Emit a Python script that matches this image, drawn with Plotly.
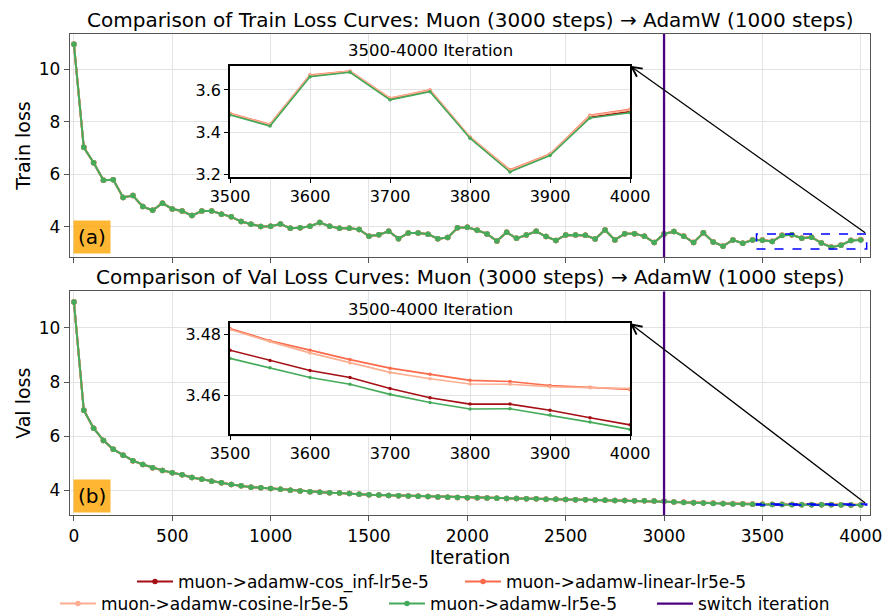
import plotly.graph_objects as go

# ---------------- data ----------------
iterations = list(range(0, 4001, 50))
switch_iter = 3000

series_names = ["muon->adamw-cos_inf-lr5e-5", "muon->adamw-linear-lr5e-5",
                "muon->adamw-cosine-lr5e-5", "muon->adamw-lr5e-5"]
series_colors = ["#a50f15", "#fb6a4a", "#fcae91", "#45ab5a"]

# shared Muon phase (0..3000)
train_muon = [10.95, 7.02, 6.43, 5.77, 5.78, 5.11, 5.18, 4.76, 4.62, 4.89,
              4.67, 4.59, 4.42, 4.59, 4.59, 4.47, 4.37, 4.19, 4.09, 4.00,
              4.01, 4.10, 3.94, 3.95, 4.01, 4.15, 4.01, 3.94, 3.94, 3.89,
              3.63, 3.69, 3.82, 3.54, 3.75, 3.75, 3.71, 3.54, 3.58, 3.95,
              3.97, 3.86, 3.72, 3.45, 3.78, 3.55, 3.68, 3.82, 3.62, 3.47,
              3.68, 3.68, 3.67, 3.53, 3.87, 3.49, 3.73, 3.73, 3.63, 3.39,
              3.72]
# AdamW phase (3050..4000)
train_cos_inf = [3.812, 3.632, 3.393, 3.762, 3.413, 3.253, 3.492, 3.363, 3.492, 3.484,
                 3.432, 3.666, 3.686, 3.556, 3.595, 3.374, 3.214, 3.292, 3.471, 3.497]
train_linear = [3.815, 3.637, 3.397, 3.767, 3.418, 3.258, 3.497, 3.368, 3.498, 3.489,
                3.437, 3.671, 3.689, 3.560, 3.600, 3.376, 3.221, 3.296, 3.480, 3.508]
train_cosine = [3.816, 3.638, 3.398, 3.768, 3.419, 3.259, 3.498, 3.369, 3.499, 3.487,
                3.436, 3.669, 3.690, 3.562, 3.598, 3.378, 3.219, 3.294, 3.478, 3.505]
train_adamw = [3.810, 3.630, 3.390, 3.760, 3.410, 3.250, 3.490, 3.360, 3.490, 3.481,
               3.429, 3.663, 3.684, 3.553, 3.592, 3.371, 3.211, 3.289, 3.467, 3.492]

val_muon = [10.96, 6.96, 6.29, 5.84, 5.51, 5.29, 5.09, 4.95, 4.83, 4.73,
            4.64, 4.57, 4.47, 4.40, 4.33, 4.27, 4.21, 4.16, 4.11, 4.09,
            4.06, 4.03, 4.00, 3.97, 3.94, 3.92, 3.90, 3.89, 3.88, 3.85,
            3.83, 3.82, 3.80, 3.79, 3.78, 3.77, 3.76, 3.75, 3.74, 3.73,
            3.72, 3.715, 3.71, 3.70, 3.695, 3.69, 3.685, 3.68, 3.665, 3.66,
            3.65, 3.645, 3.64, 3.632, 3.628, 3.62, 3.617, 3.61, 3.607, 3.60,
            3.585]
val_cos_inf = [3.562, 3.548, 3.535, 3.523, 3.512, 3.502, 3.494, 3.487, 3.480, 3.4748,
               3.4714, 3.4681, 3.4658, 3.4622, 3.4592, 3.4571, 3.4571, 3.4551, 3.4526, 3.4503]
val_linear = [3.565, 3.552, 3.540, 3.530, 3.520, 3.510, 3.502, 3.495, 3.488, 3.4819,
              3.4779, 3.4748, 3.4717, 3.4689, 3.4669, 3.4649, 3.4645, 3.4632, 3.4626, 3.4619]
val_cosine = [3.565, 3.552, 3.540, 3.530, 3.520, 3.510, 3.502, 3.494, 3.487, 3.4816,
              3.4776, 3.4739, 3.4706, 3.4675, 3.4654, 3.4637, 3.4636, 3.4628, 3.4625, 3.4622]
val_adamw = [3.561, 3.546, 3.533, 3.521, 3.510, 3.500, 3.491, 3.484, 3.477, 3.4721,
             3.4690, 3.4658, 3.4636, 3.4603, 3.4576, 3.4555, 3.4556, 3.4535, 3.4512, 3.4488]

main_x_ticks = [0, 500, 1000, 1500, 2000, 2500, 3000, 3500, 4000]
main_y_ticks = [4, 6, 8, 10]
inset_x_ticks = [3500, 3600, 3700, 3800, 3900, 4000]
top_inset_y_ticks = [3.2, 3.4, 3.6]
bot_inset_y_ticks = [3.46, 3.48]

train_series = [train_muon + train_cos_inf, train_muon + train_linear,
                train_muon + train_cosine, train_muon + train_adamw]
val_series = [val_muon + val_cos_inf, val_muon + val_linear,
              val_muon + val_cosine, val_muon + val_adamw]

# ---------------- layout constants ----------------
FONT = "DejaVu Sans"
XR = [-20, 4047]
TOP_YR = [2.84, 11.34]
BOT_YR = [3.08, 11.35]
TOP_DOM = [0.5364, 1.0]
BOT_DOM = [0.0, 0.4647]
INSET_XDOM = [0.2, 0.7]
TOP_INSET_DOM = [0.7027, 0.9341]
BOT_INSET_DOM = [0.1678, 0.3985]
TOP_INSET_YR = [3.187, 3.715]
BOT_INSET_YR = [3.4472, 3.4836]
INSET_XR = [3500, 4000]

i0 = iterations.index(3500)
legend_ids = ["legend", "legend2", "legend3", "legend4"]

fig = go.Figure()

for k in range(4):
    fig.add_trace(go.Scatter(x=iterations, y=train_series[k], mode="lines+markers",
                             name=series_names[k], legend=legend_ids[k],
                             line=dict(color=series_colors[k], width=2),
                             marker=dict(color=series_colors[k], size=5.5),
                             xaxis="x", yaxis="y", showlegend=True))
for k in range(4):
    fig.add_trace(go.Scatter(x=iterations, y=val_series[k], mode="lines+markers",
                             name=series_names[k], showlegend=False,
                             line=dict(color=series_colors[k], width=2),
                             marker=dict(color=series_colors[k], size=5.5),
                             xaxis="x2", yaxis="y2"))
for k in range(4):
    fig.add_trace(go.Scatter(x=iterations[i0:], y=train_series[k][i0:], mode="lines+markers",
                             name=series_names[k], showlegend=False,
                             line=dict(color=series_colors[k], width=1.6),
                             marker=dict(color=series_colors[k], size=3.5),
                             xaxis="x3", yaxis="y3"))
for k in range(4):
    fig.add_trace(go.Scatter(x=iterations[i0:], y=val_series[k][i0:], mode="lines+markers",
                             name=series_names[k], showlegend=False,
                             line=dict(color=series_colors[k], width=1.6),
                             marker=dict(color=series_colors[k], size=3.5),
                             xaxis="x4", yaxis="y4"))

grid = "#e3e3e3"
frame = "#555555"
main_ax = dict(showline=True, mirror=True, linecolor=frame, linewidth=1.3,
               ticks="outside", ticklen=5, tickcolor=frame, gridcolor=grid,
               zeroline=False, automargin=False,
               tickfont=dict(family=FONT, size=17, color="black"))
inset_ax = dict(showline=True, mirror=True, linecolor="black", linewidth=1.5,
                ticks="outside", ticklen=4, tickcolor="black", gridcolor=grid,
                zeroline=False, automargin=False,
                tickfont=dict(family=FONT, size=16, color="black"))

fig.update_layout(
    width=887, height=613,
    margin=dict(l=70, r=17, t=34, b=98, autoexpand=False),
    paper_bgcolor="white", plot_bgcolor="white",
    font=dict(family=FONT, color="black"),
    xaxis=dict(main_ax, domain=[0, 1], range=XR, tickvals=main_x_ticks,
               showticklabels=False, anchor="y"),
    yaxis=dict(main_ax, domain=TOP_DOM, range=TOP_YR, tickvals=main_y_ticks, anchor="x",
               title=dict(text="Train loss", font=dict(size=19), standoff=3)),
    xaxis2=dict(main_ax, domain=[0, 1], range=XR, tickvals=main_x_ticks, anchor="y2",
                title=dict(text="Iteration", font=dict(size=19), standoff=6)),
    yaxis2=dict(main_ax, domain=BOT_DOM, range=BOT_YR, tickvals=main_y_ticks, anchor="x2",
                title=dict(text="Val loss", font=dict(size=19), standoff=3)),
    xaxis3=dict(inset_ax, domain=INSET_XDOM, range=INSET_XR, tickvals=inset_x_ticks, anchor="y3"),
    yaxis3=dict(inset_ax, domain=TOP_INSET_DOM, range=TOP_INSET_YR, tickvals=top_inset_y_ticks,
                tickformat=".1f", anchor="x3"),
    xaxis4=dict(inset_ax, domain=INSET_XDOM, range=INSET_XR, tickvals=inset_x_ticks, anchor="y4"),
    yaxis4=dict(inset_ax, domain=BOT_INSET_DOM, range=BOT_INSET_YR, tickvals=bot_inset_y_ticks,
                tickformat=".2f", anchor="x4"),
    showlegend=True,
)

# legends (one per entry, arranged like the reference)
leg_font = dict(family=FONT, size=17, color="black")
leg_pos = [(0.0775, -0.1393), (0.4875, -0.1393), (-0.0188, -0.185), (0.3925, -0.185), (0.7275, -0.185)]
leg_keys = ["legend", "legend2", "legend3", "legend4", "legend5"]
leg_layout = {}
for key, (lx, ly) in zip(leg_keys, leg_pos):
    leg_layout[key] = dict(x=lx, y=ly, xanchor="left", yanchor="middle", orientation="h",
                           font=leg_font, bgcolor="rgba(0,0,0,0)", borderwidth=0,
                           itemwidth=36)
fig.update_layout(**leg_layout)

# switch iteration lines
for xr_, yr_, show in [("x", "y domain", True), ("x2", "y2 domain", False)]:
    fig.add_shape(type="line", xref=xr_, yref=yr_, x0=switch_iter, x1=switch_iter, y0=0, y1=1,
                  line=dict(color="#4b0082", width=2.3), layer="above",
                  name="switch iteration", showlegend=show, legend="legend5")

# zoom rectangles
fig.add_shape(type="rect", xref="x", yref="y", x0=3470, x1=4030, y0=3.14, y1=3.72,
              line=dict(color="blue", width=1.5, dash="dash"), layer="above")
fig.add_shape(type="rect", xref="x2", yref="y2", x0=3470, x1=4030, y0=3.447, y1=3.484,
              line=dict(color="blue", width=1.5, dash="dash"), layer="above")

# arrows from rectangles to inset corners
def to_data(frac, rng):
    return rng[0] + frac * (rng[1] - rng[0])

top_head_x = to_data(INSET_XDOM[1], XR)
top_head_y = to_data((TOP_INSET_DOM[1] - TOP_DOM[0]) / (TOP_DOM[1] - TOP_DOM[0]), TOP_YR)
bot_head_y = to_data((BOT_INSET_DOM[1] - BOT_DOM[0]) / (BOT_DOM[1] - BOT_DOM[0]), BOT_YR)
fig.add_annotation(xref="x", yref="y", axref="x", ayref="y", x=top_head_x, y=top_head_y,
                   ax=4030, ay=3.72, text="", showarrow=True, arrowhead=5, arrowsize=1.5,
                   arrowwidth=1.3, arrowcolor="black", standoff=0, startstandoff=0)
fig.add_annotation(xref="x2", yref="y2", axref="x2", ayref="y2", x=top_head_x, y=bot_head_y,
                   ax=4030, ay=3.484, text="", showarrow=True, arrowhead=5, arrowsize=1.5,
                   arrowwidth=1.3, arrowcolor="black", standoff=0, startstandoff=0)

# titles
fig.add_annotation(xref="paper", yref="paper", x=0.5, y=1.029, showarrow=False,
                   text="Comparison of Train Loss Curves: Muon (3000 steps) \u2192 AdamW (1000 steps)",
                   font=dict(family=FONT, size=20), xanchor="center", yanchor="middle")
fig.add_annotation(xref="paper", yref="paper", x=0.5, y=0.4948, showarrow=False,
                   text="Comparison of Val Loss Curves: Muon (3000 steps) \u2192 AdamW (1000 steps)",
                   font=dict(family=FONT, size=20), xanchor="center", yanchor="middle")
fig.add_annotation(xref="paper", yref="paper", x=0.45, y=0.9647, showarrow=False,
                   text="3500-4000 Iteration", font=dict(family=FONT, size=16.5),
                   xanchor="center", yanchor="middle")
fig.add_annotation(xref="paper", yref="paper", x=0.45, y=0.4262, showarrow=False,
                   text="3500-4000 Iteration", font=dict(family=FONT, size=16.5),
                   xanchor="center", yanchor="middle")

# panel labels
fig.add_annotation(xref="x domain", yref="y domain", x=0.0275, y=0.0876, text="(a)",
                   showarrow=False, bgcolor="rgba(255,165,0,0.8)", borderpad=4,
                   xanchor="center", yanchor="middle",
                   font=dict(family=FONT, size=20, color="black"))
fig.add_annotation(xref="x2 domain", yref="y2 domain", x=0.0275, y=0.086, text="(b)",
                   showarrow=False, bgcolor="rgba(255,165,0,0.8)", borderpad=4,
                   xanchor="center", yanchor="middle",
                   font=dict(family=FONT, size=20, color="black"))

fig.write_html("out.html", config={"displayModeBar": False},
               post_script="document.body.style.margin='0px';document.body.style.overflow='hidden';")
